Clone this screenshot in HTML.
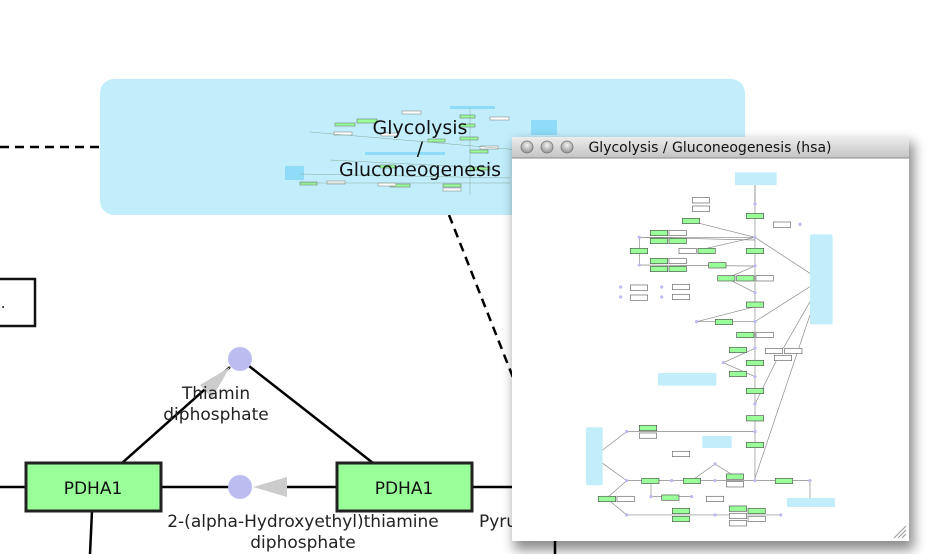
<!DOCTYPE html>
<html><head><meta charset="utf-8"><style>
html,body{margin:0;padding:0;background:#fff;width:929px;height:554px;overflow:hidden}
svg{display:block}
text{font-family:"DejaVu Sans","Liberation Sans",sans-serif}
</style></head><body>
<svg width="929" height="554" viewBox="0 0 929 554" xmlns="http://www.w3.org/2000/svg">
<defs>
<filter id="sh" x="-10%" y="-10%" width="130%" height="130%"><feGaussianBlur stdDeviation="6"/></filter>
<linearGradient id="tb" x1="0" y1="0" x2="0" y2="1"><stop offset="0" stop-color="#ececec"/><stop offset="1" stop-color="#c4c4c4"/></linearGradient>
<radialGradient id="btn" cx="0.5" cy="0.35" r="0.6"><stop offset="0" stop-color="#f2f2f2"/><stop offset="1" stop-color="#9a9a9a"/></radialGradient>
</defs>
<line x1="0" y1="147" x2="100" y2="147" stroke="#000" stroke-width="2.5" stroke-dasharray="9,6"/>
<line x1="449" y1="215" x2="514" y2="380" stroke="#000" stroke-width="2.5" stroke-dasharray="9,6"/>
<rect x="100" y="79" width="645" height="136" rx="14" fill="#c2eefc"/>
<g stroke-width="1">
<rect x="531" y="120" width="26" height="15" fill="#8fdcf8"/>
<rect x="285" y="166" width="19" height="14" fill="#8fdcf8"/>
<rect x="365" y="152" width="80" height="3" fill="#8fdcf8"/>
<rect x="450" y="106" width="45" height="3" fill="#8fdcf8"/>
<g fill="#99ff99" stroke="#666" stroke-width="0.5">
<rect x="357" y="119" width="20" height="4"/><rect x="335" y="123" width="20" height="3"/>
<rect x="460" y="115" width="15" height="3"/><rect x="460" y="124" width="15" height="3"/>
<rect x="460" y="137" width="18" height="3"/><rect x="428" y="139" width="17" height="3"/>
<rect x="470" y="150" width="18" height="3"/><rect x="380" y="165" width="15" height="3"/>
<rect x="443" y="184" width="18" height="3"/><rect x="390" y="184" width="20" height="3"/>
<rect x="470" y="167" width="20" height="3"/><rect x="300" y="182" width="17" height="3"/>
</g>
<g fill="#fff" stroke="#777" stroke-width="0.5">
<rect x="334" y="132" width="18" height="3"/><rect x="402" y="111" width="19" height="3"/>
<rect x="381" y="133" width="17" height="3"/><rect x="490" y="117" width="19" height="3"/>
<rect x="480" y="146" width="18" height="3"/><rect x="443" y="188" width="18" height="3"/>
<rect x="327" y="181" width="18" height="3"/><rect x="378" y="183" width="18" height="3"/>
</g>
<g stroke="#8a9" stroke-width="0.5" fill="none">
<line x1="470" y1="108" x2="470" y2="195"/><line x1="310" y1="132" x2="520" y2="150"/>
<line x1="300" y1="174" x2="510" y2="178"/><line x1="330" y1="160" x2="490" y2="168"/>
<line x1="300" y1="183" x2="510" y2="183"/>
</g>
</g>
<text x="420" y="134" font-size="19" text-anchor="middle" fill="#111">Glycolysis</text>
<text x="420" y="155" font-size="19" text-anchor="middle" fill="#111">/</text>
<text x="420" y="176" font-size="19" text-anchor="middle" fill="#111">Gluconeogenesis</text>
<rect x="-5" y="279" width="40" height="47" fill="#fff" stroke="#111" stroke-width="2.5"/>
<text x="-4" y="308" font-size="15" fill="#111">..</text>
<line x1="122" y1="463" x2="230" y2="367" stroke="#000" stroke-width="2.5"/>
<polygon points="230,367 200,385 212,398" fill="#ccc"/>
<line x1="373" y1="463" x2="249" y2="366" stroke="#000" stroke-width="2.5"/>
<line x1="0" y1="487" x2="26" y2="487" stroke="#000" stroke-width="2.5"/>
<line x1="161" y1="487" x2="240" y2="487" stroke="#000" stroke-width="2.5"/>
<line x1="287" y1="487" x2="337" y2="487" stroke="#000" stroke-width="2.5"/>
<polygon points="253,487 287,477 287,497" fill="#ccc"/>
<line x1="472" y1="487" x2="515" y2="487" stroke="#000" stroke-width="2.5"/>
<line x1="92" y1="511" x2="90" y2="554" stroke="#000" stroke-width="2.5"/>
<line x1="555" y1="540" x2="555" y2="554" stroke="#000" stroke-width="2.5"/>
<circle cx="240" cy="359" r="12" fill="#bcbcf0"/>
<circle cx="240" cy="487" r="12" fill="#bcbcf0"/>
<rect x="26" y="463" width="135" height="48" fill="#99ff99" stroke="#222" stroke-width="3"/>
<rect x="337" y="463" width="135" height="48" fill="#99ff99" stroke="#222" stroke-width="3"/>
<text x="93" y="494" font-size="17" text-anchor="middle" fill="#111">PDHA1</text>
<text x="404" y="494" font-size="17" text-anchor="middle" fill="#111">PDHA1</text>
<text x="216" y="399" font-size="17" text-anchor="middle" fill="#222">Thiamin</text>
<text x="216" y="420" font-size="17" text-anchor="middle" fill="#222">diphosphate</text>
<text x="303" y="527" font-size="17" text-anchor="middle" fill="#222">2-(alpha-Hydroxyethyl)thiamine</text>
<text x="303" y="548" font-size="17" text-anchor="middle" fill="#222">diphosphate</text>
<text x="479" y="527" font-size="17" fill="#222">Pyru</text>
<rect x="514" y="142" width="400" height="408" fill="#000" opacity="0.45" filter="url(#sh)"/>
<rect x="512" y="137" width="397" height="404" fill="#fff"/>
<rect x="512" y="137" width="397" height="21" fill="url(#tb)"/>
<line x1="512" y1="158" x2="909" y2="158" stroke="#888" stroke-width="1"/>
<circle cx="527" cy="147" r="6" fill="url(#btn)" stroke="#777" stroke-width="0.8"/>
<circle cx="547" cy="147" r="6" fill="url(#btn)" stroke="#777" stroke-width="0.8"/>
<circle cx="567" cy="147" r="6" fill="url(#btn)" stroke="#777" stroke-width="0.8"/>
<text x="710" y="152" font-size="14" text-anchor="middle" fill="#111">Glycolysis / Gluconeogenesis (hsa)</text>
<g stroke="#999" stroke-width="1"><line x1="898" y1="538" x2="906" y2="530"/><line x1="902" y1="538" x2="906" y2="534"/><line x1="894" y1="538" x2="906" y2="526"/></g>
<g transform="translate(510,130) scale(0.3333)">
<g fill="#c2eefc">
<rect x="675" y="127" width="125" height="38"/><rect x="900" y="313" width="68" height="270" rx="6"/>
<rect x="444" y="729" width="175" height="38"/><rect x="577" y="918" width="88" height="36"/>
<rect x="228" y="892" width="50" height="174" rx="6"/><rect x="831" y="1104" width="144" height="27"/>
</g>
<g stroke="#888" stroke-width="2" fill="none">
<line x1="735" y1="165" x2="735" y2="1050"/>
<line x1="568" y1="280" x2="735" y2="322"/><line x1="388" y1="322" x2="735" y2="322"/>
<line x1="388" y1="322" x2="735" y2="330"/><line x1="590" y1="355" x2="735" y2="322"/>
<line x1="735" y1="322" x2="900" y2="430"/><line x1="388" y1="322" x2="388" y2="405"/>
<line x1="388" y1="405" x2="735" y2="408"/><line x1="650" y1="445" x2="735" y2="408"/>
<line x1="735" y1="488" x2="650" y2="445"/><line x1="560" y1="575" x2="735" y2="530"/>
<line x1="560" y1="575" x2="735" y2="575"/><line x1="735" y1="575" x2="900" y2="470"/>
<line x1="735" y1="655" x2="640" y2="698"/><line x1="640" y1="698" x2="735" y2="740"/>
<line x1="735" y1="822" x2="800" y2="690"/><line x1="820" y1="655" x2="900" y2="515"/>
<line x1="735" y1="1045" x2="900" y2="555"/><line x1="350" y1="905" x2="735" y2="905"/>
<line x1="278" y1="960" x2="350" y2="905"/><line x1="278" y1="1000" x2="350" y2="1052"/>
<line x1="350" y1="1052" x2="900" y2="1052"/><line x1="290" y1="1105" x2="350" y2="1052"/>
<line x1="290" y1="1105" x2="350" y2="1155"/><line x1="350" y1="1155" x2="812" y2="1155"/>
<line x1="545" y1="1052" x2="615" y2="1002"/><line x1="615" y1="1002" x2="675" y2="1040"/>
<line x1="423" y1="1052" x2="423" y2="1100"/><line x1="423" y1="1100" x2="545" y2="1100"/>
<line x1="900" y1="1052" x2="900" y2="1104"/><line x1="735" y1="165" x2="735" y2="222"/>
</g>
<g fill="#99ff99" stroke="#555" stroke-width="2">
<rect x="517" y="265" width="52" height="16"/><rect x="421" y="301" width="52" height="16"/><rect x="421" y="325" width="52" height="16"/>
<rect x="477" y="325" width="52" height="16"/>
<rect x="361" y="355" width="52" height="16"/><rect x="564" y="355" width="52" height="16"/><rect x="709" y="250" width="52" height="16"/>
<rect x="709" y="355" width="52" height="16"/><rect x="421" y="385" width="52" height="16"/><rect x="421" y="409" width="52" height="16"/>
<rect x="477" y="409" width="52" height="16"/>
<rect x="596" y="398" width="52" height="16"/><rect x="623" y="437" width="52" height="16"/><rect x="680" y="437" width="52" height="16"/>
<rect x="709" y="516" width="52" height="16"/><rect x="616" y="568" width="52" height="16"/><rect x="680" y="607" width="52" height="16"/>
<rect x="658" y="652" width="52" height="16"/><rect x="709" y="691" width="52" height="16"/><rect x="658" y="724" width="52" height="16"/>
<rect x="709" y="775" width="52" height="16"/><rect x="709" y="857" width="52" height="16"/><rect x="388" y="886" width="52" height="16"/>
<rect x="709" y="937" width="52" height="16"/><rect x="395" y="1045" width="52" height="16"/><rect x="520" y="1045" width="52" height="16"/>
<rect x="649" y="1032" width="52" height="16"/><rect x="796" y="1045" width="52" height="16"/><rect x="265" y="1099" width="52" height="16"/>
<rect x="455" y="1095" width="52" height="16"/><rect x="487" y="1135" width="52" height="16"/><rect x="487" y="1159" width="52" height="16"/>
<rect x="658" y="1128" width="52" height="16"/><rect x="714" y="1135" width="52" height="16"/>
</g>
<g fill="#fff" stroke="#666" stroke-width="2">
<rect x="547" y="203" width="52" height="16"/><rect x="547" y="228" width="52" height="16"/><rect x="477" y="301" width="52" height="16"/>
<rect x="507" y="355" width="52" height="16"/><rect x="477" y="385" width="52" height="16"/>
<rect x="738" y="437" width="52" height="16"/><rect x="790" y="276" width="52" height="16"/><rect x="361" y="465" width="52" height="16"/>
<rect x="361" y="495" width="52" height="16"/><rect x="487" y="463" width="52" height="16"/><rect x="487" y="493" width="52" height="16"/>
<rect x="738" y="607" width="52" height="16"/><rect x="766" y="655" width="52" height="16"/><rect x="824" y="655" width="52" height="16"/>
<rect x="793" y="676" width="52" height="16"/><rect x="388" y="909" width="52" height="16"/><rect x="487" y="964" width="52" height="16"/>
<rect x="321" y="1099" width="52" height="16"/><rect x="589" y="1099" width="52" height="16"/><rect x="649" y="1055" width="52" height="16"/>
<rect x="658" y="1150" width="52" height="16"/><rect x="658" y="1172" width="52" height="16"/><rect x="714" y="1159" width="52" height="16"/>
</g>
<g fill="#bcbcf0">
<circle cx="735" cy="222" r="5"/><circle cx="735" cy="322" r="5"/><circle cx="388" cy="322" r="5"/><circle cx="388" cy="405" r="5"/>
<circle cx="735" cy="408" r="5"/><circle cx="735" cy="488" r="5"/><circle cx="560" cy="575" r="5"/><circle cx="735" cy="575" r="5"/>
<circle cx="735" cy="655" r="5"/><circle cx="640" cy="698" r="5"/><circle cx="735" cy="740" r="5"/><circle cx="735" cy="822" r="5"/>
<circle cx="735" cy="905" r="5"/><circle cx="350" cy="905" r="5"/><circle cx="350" cy="1052" r="5"/><circle cx="485" cy="1052" r="5"/>
<circle cx="615" cy="1052" r="5"/><circle cx="615" cy="1002" r="5"/><circle cx="735" cy="1052" r="5"/><circle cx="900" cy="1052" r="5"/>
<circle cx="423" cy="1100" r="5"/><circle cx="545" cy="1100" r="5"/><circle cx="350" cy="1155" r="5"/><circle cx="615" cy="1155" r="5"/>
<circle cx="812" cy="1155" r="5"/><circle cx="870" cy="283" r="5"/><circle cx="332" cy="471" r="5"/><circle cx="332" cy="501" r="5"/>
<circle cx="455" cy="471" r="5"/><circle cx="455" cy="501" r="5"/>
</g>
</g>
</svg>
</body></html>
